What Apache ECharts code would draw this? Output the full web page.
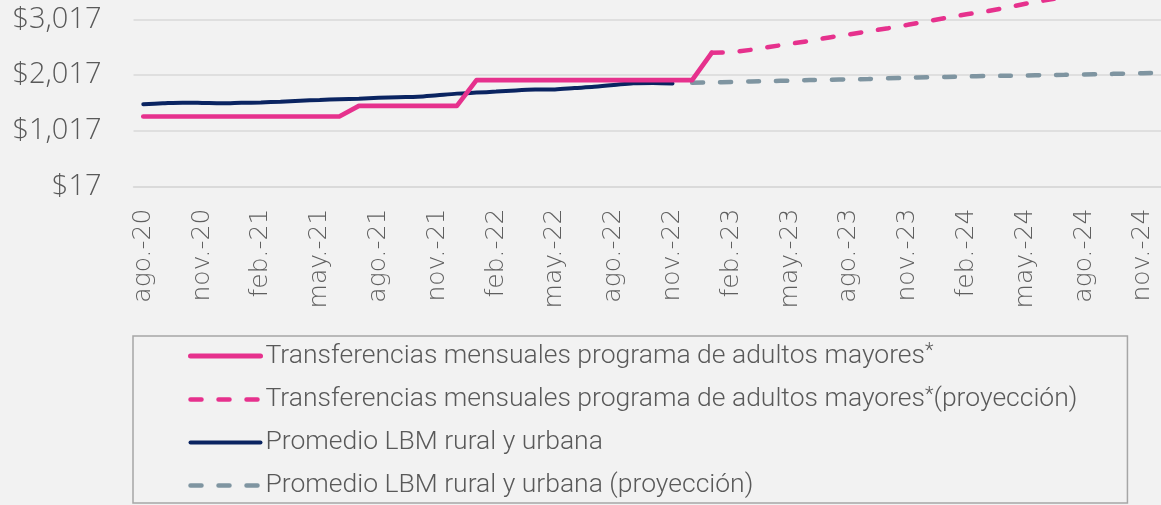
<!DOCTYPE html>
<html>
<head>
<meta charset="utf-8">
<script src="https://cdn.jsdelivr.net/npm/echarts@6/dist/echarts.min.js"></script>
<style>
  html, body { margin: 0; padding: 0; background: #f2f2f2; }
  #chart { width: 1161px; height: 505px; }
</style>
</head>
<body>
<div id="chart"></div>
<script>
// Months from ago.-20 to dic.-24
const months = [
  'ago.-20', 'sep.-20', 'oct.-20', 'nov.-20', 'dic.-20',
  'ene.-21', 'feb.-21', 'mar.-21', 'abr.-21', 'may.-21', 'jun.-21', 'jul.-21',
  'ago.-21', 'sep.-21', 'oct.-21', 'nov.-21', 'dic.-21',
  'ene.-22', 'feb.-22', 'mar.-22', 'abr.-22', 'may.-22', 'jun.-22', 'jul.-22',
  'ago.-22', 'sep.-22', 'oct.-22', 'nov.-22', 'dic.-22',
  'ene.-23', 'feb.-23', 'mar.-23', 'abr.-23', 'may.-23', 'jun.-23', 'jul.-23',
  'ago.-23', 'sep.-23', 'oct.-23', 'nov.-23', 'dic.-23',
  'ene.-24', 'feb.-24', 'mar.-24', 'abr.-24', 'may.-24', 'jun.-24', 'jul.-24',
  'ago.-24', 'sep.-24', 'oct.-24', 'nov.-24', 'dic.-24'
];

// Monthly transfer of the older-adults programme (ago.-20 .. ene.-23)
const transfer = [
  1275, 1275, 1275, 1275, 1275, 1275, 1275, 1275, 1275, 1275, 1275,
  1466, 1466, 1466, 1466, 1466, 1466,
  1927, 1927, 1927, 1927, 1927, 1927, 1927, 1927, 1927, 1927, 1927, 1927,
  2417
];

// Projection of the transfer (ene.-23 .. dic.-24)
const transferProj = [
  2417, 2425, 2470, 2525, 2577, 2631, 2692, 2746, 2802, 2857, 2918, 2983,
  3044, 3109, 3157, 3223, 3295, 3356, 3420, 3490, 3560, 3630, 3700, 3770
];

// Average rural + urban LBM (ago.-20 .. nov.-22)
const lbm = [
  1496, 1511, 1523, 1518, 1511, 1520, 1527, 1541, 1559, 1572, 1586, 1595,
  1609, 1622, 1631, 1658, 1685, 1703, 1721, 1742, 1757, 1760, 1784, 1807,
  1838, 1873, 1877, 1868
];

// Projection of the LBM average (dic.-22 .. dic.-24)
const lbmProj = [
  1879, 1887, 1894, 1904, 1911, 1918, 1927, 1934, 1942, 1947, 1960, 1969,
  1978, 1985, 1992, 2000, 2005, 2011, 2018, 2023, 2029, 2036, 2043, 2052, 2057
];

// Value-axis ticks
const yTicks = [17, 1017, 2017, 3017, 4017];

const names = [
  'Transferencias mensuales programa de adultos mayores*',
  'Transferencias mensuales programa de adultos mayores*(proyección)',
  'Promedio LBM rural y urbana',
  'Promedio LBM rural y urbana (proyección)'
];

function place(values, offset) {
  const out = new Array(months.length).fill(null);
  values.forEach((v, i) => { out[offset + i] = v; });
  return out;
}

const PINK = '#e6318d';
const NAVY = '#0a2461';
const GREY = '#7f95a1';
const DASH = [11, 17];
const LEGEND_FONT = 'Roboto';

const legendLines = [
  { color: PINK, width: 5, type: 'solid' },
  { color: PINK, width: 4.5, type: [11, 17] },
  { color: NAVY, width: 4, type: 'solid' },
  { color: GREY, width: 4.5, type: [11, 17] }
];

const chart = echarts.init(document.getElementById('chart'), null, { renderer: 'canvas' });

chart.setOption({
  backgroundColor: '#f2f2f2',
  animation: false,
  grid: {
    left: 133.5,
    top: -36.5,
    width: 1038.8,
    height: 223.2,
    outerBoundsMode: 'none',
    containLabel: false
  },
  xAxis: {
    type: 'category',
    data: months,
    boundaryGap: true,
    axisLine: { show: true, lineStyle: { color: '#d9d9d9', width: 1.5 } },
    axisTick: { show: false },
    axisLabel: {
      interval: 2,
      rotate: 90,
      margin: 22,
      color: '#5f5f5f',
      fontFamily: 'DejaVu Sans',
      fontWeight: 200,
      fontSize: 25
    },
    splitLine: { show: false }
  },
  yAxis: {
    type: 'value',
    min: yTicks[0],
    max: yTicks[yTicks.length - 1],
    interval: 1000,
    axisLine: { show: false },
    axisTick: { show: false },
    axisLabel: {
      margin: 32,
      color: '#595959',
      fontFamily: 'Open Sans',
      fontWeight: 300,
      fontSize: 29,
      formatter: v => '$' + v.toLocaleString('en-US')
    },
    splitLine: { lineStyle: { color: '#d9d9d9', width: 1.5 } }
  },
  legend: {
    orient: 'vertical',
    left: 133,
    top: 336,
    height: 170,
    data: names.map((n, i) => ({
      name: n,
      lineStyle: Object.assign({ cap: 'round' }, legendLines[i]),
      itemStyle: { opacity: 0 }
    })),
    itemWidth: 70,
    itemHeight: 28,
    itemGap: 16,
    padding: [6, 50, 4, 55],
    borderColor: '#a6a6a6',
    borderWidth: 1.5,
    backgroundColor: '#f2f2f2',
    selectedMode: false,
    itemStyle: { opacity: 0 },
    formatter: name => {
      const i = name.indexOf('*');
      if (i < 0) return '{t|' + name + '}';
      const rest = name.slice(i + 1);
      return '{t|' + name.slice(0, i) + '}{s|*}' + (rest ? '{t|' + rest + '}' : '');
    },
    textStyle: {
      color: '#595959',
      fontFamily: LEGEND_FONT,
      fontWeight: 300,
      fontSize: 26.5,
      rich: {
        t: { fontFamily: LEGEND_FONT, fontWeight: 300, fontSize: 26.5, color: '#595959', lineHeight: 28 },
        s: { fontFamily: LEGEND_FONT, fontWeight: 300, fontSize: 20, color: '#595959', lineHeight: 12, verticalAlign: 'top' }
      }
    }
  },
  series: [
    {
      name: names[0],
      type: 'line',
      data: place(transfer, 0),
      symbol: 'none',
      lineStyle: { color: PINK, width: 4.7, join: 'round', cap: 'round' },
      itemStyle: { color: PINK },
      z: 4
    },
    {
      name: names[1],
      type: 'line',
      data: place(transferProj, transfer.length - 1),
      symbol: 'none',
      lineStyle: { color: PINK, width: 4.5, type: DASH, cap: 'round' },
      itemStyle: { color: PINK },
      z: 4
    },
    {
      name: names[2],
      type: 'line',
      data: place(lbm, 0),
      symbol: 'none',
      smooth: 0.3,
      lineStyle: { color: NAVY, width: 4, cap: 'round' },
      itemStyle: { color: NAVY },
      z: 3
    },
    {
      name: names[3],
      type: 'line',
      data: place(lbmProj, lbm.length),
      symbol: 'none',
      smooth: 0.3,
      lineStyle: { color: GREY, width: 4.5, type: DASH, cap: 'round' },
      itemStyle: { color: GREY },
      z: 3
    }
  ]
});
</script>
</body>
</html>
